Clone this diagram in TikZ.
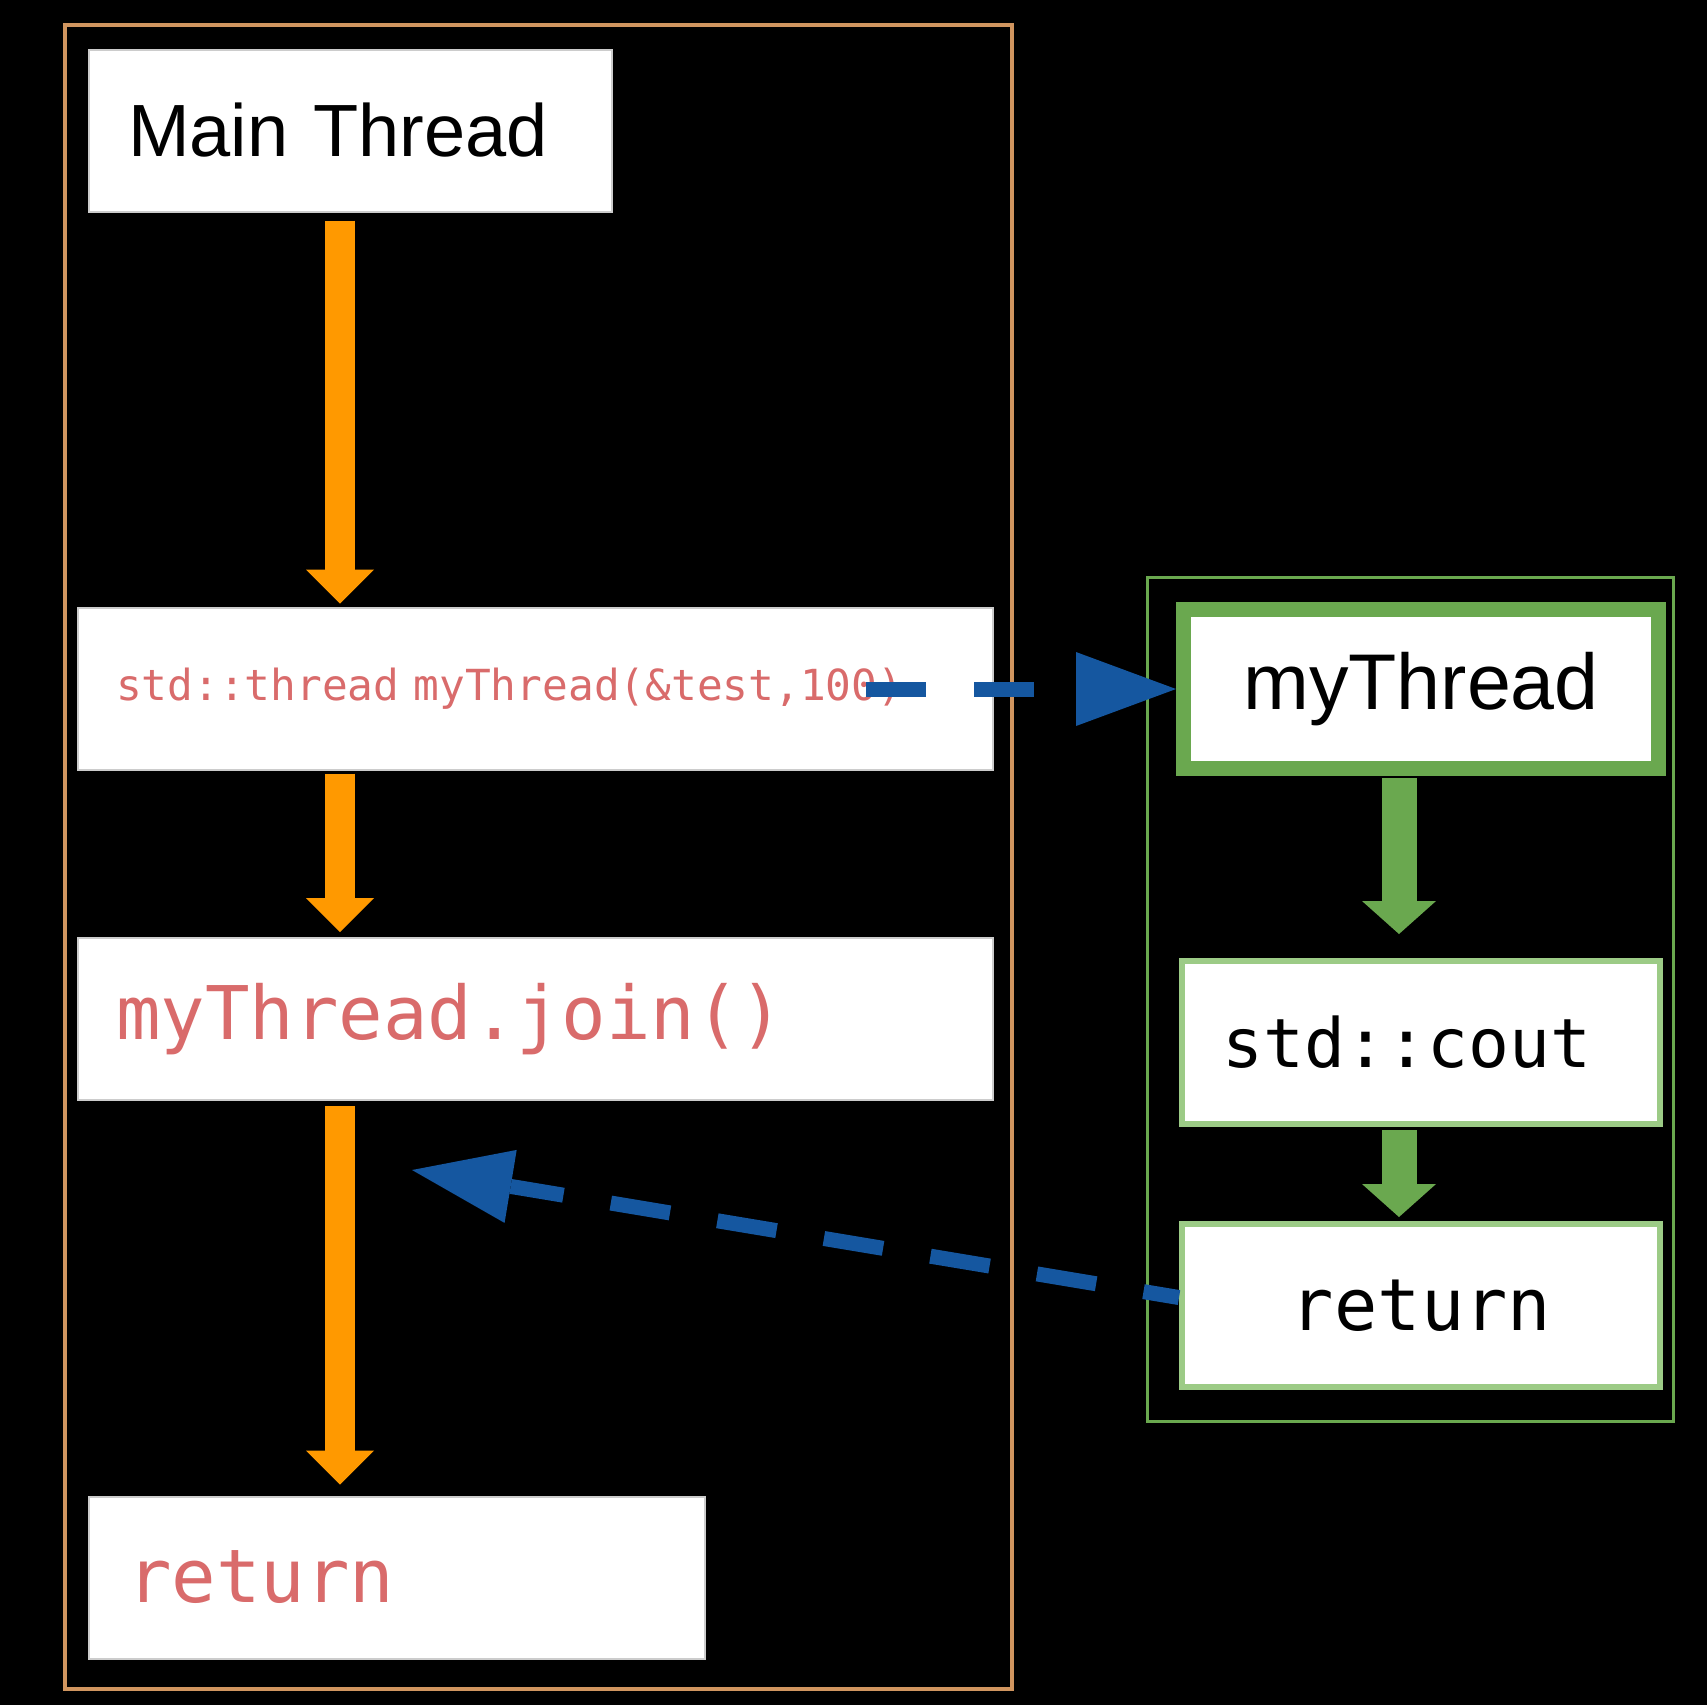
\documentclass[tikz,border=0pt]{standalone}
\usepackage{fontspec}
\usetikzlibrary{arrows.meta}
\newfontfamily\labelfont{Liberation Sans}
\newfontfamily\codefont{DejaVu Sans Mono}

\definecolor{flowOrange}{HTML}{FF9900}
\definecolor{threadgreen}{HTML}{6AA84F}
\definecolor{callgreen}{HTML}{9CCB86}
\definecolor{handblue}{HTML}{1557A0}
\definecolor{codered}{HTML}{D96B6B}
\definecolor{frametan}{HTML}{D0955F}

\tikzset{
  basebox/.style={rectangle, fill=white, draw=black!20, line width=1pt,
                  inner sep=0pt, minimum height=81pt, align=left},
  titlebox/.style={basebox, font=\labelfont\fontsize{37}{44}\selectfont,
                   inner xsep=19.5pt, text width=222.5pt},
  codebox/.style={basebox, text=codered, inner xsep=19pt, text width=#1},
  threadbox/.style={rectangle, fill=white, draw=threadgreen, line width=7.5pt,
                    inner sep=0pt, minimum width=237.5pt, minimum height=79.5pt,
                    font=\labelfont\fontsize{39.5}{46}\selectfont},
  callbox/.style={rectangle, fill=white, draw=callgreen, line width=3pt,
                  inner sep=0pt, minimum width=239pt, minimum height=81.5pt},
  mainflow/.style={draw=flowOrange, line width=15pt,
                   -{Triangle[width=34pt,length=17pt,line width=0pt]}},
  subflow/.style={draw=threadgreen, line width=17.5pt,
                  -{Triangle[width=37pt,length=16.5pt,line width=0pt]}},
  handoff/.style={draw=handblue, line width=7.5pt, dash pattern=on 30pt off 24pt,
                  -{Triangle[width=37pt,length=50pt,line width=0pt]}}
}

\begin{document}
\begin{tikzpicture}[x=0.5pt,y=-0.5pt]
  \fill[black] (0,0) rectangle (1707,1705);
  \useasboundingbox (0,0) rectangle (1707,1705);

  % thread frames
  \draw[frametan, line width=2pt]     (65,25) rectangle (1012,1689);
  \draw[threadgreen, line width=1.5pt] (1147,577) rectangle (1673,1421);

  % main thread
  \node[titlebox]               (main)  at (350.5,130.5) {Main Thread};
  \node[codebox=419.5pt, font=\codefont\fontsize{21.4}{25}\selectfont]
                                (spawn) at (535.5,688.5) {std::thread myThread(\&test,100)};
  \node[codebox=419.5pt, font=\codefont\fontsize{37}{44}\selectfont]
                                (join)  at (535.5,1019)  {myThread.join()};
  \node[codebox=270pt, font=\codefont\fontsize{37}{44}\selectfont]
                                (ret)   at (397,1577.5)  {return};

  % second thread
  \node[threadbox]              (child) at (1421,689)    {myThread};
  \node[callbox, font=\codefont\fontsize{34}{41}\selectfont]
                                (cout)  at (1421,1042.5) {std::cout\kern14pt};
  \node[callbox, font=\codefont\fontsize{36}{43}\selectfont]
                                (rret)  at (1421,1305.5) {return};

  \coordinate (trunk)  at (340,0);
  \coordinate (branch) at (1399,0);
  \coordinate (fork)   at (866,689);
  \coordinate (back)   at (412,1170);

  \path (main.south -| trunk)  edge [mainflow, shorten <=4pt, shorten >=1.5pt] (spawn.north -| trunk)
        (spawn.south -| trunk) edge [mainflow, shorten <=1.5pt, shorten >=2.5pt] (join.north -| trunk)
        (join.south -| trunk)  edge [mainflow, shorten <=2.5pt, shorten >=5.5pt] (ret.north -| trunk);

  \path (child.south -| branch) edge [subflow, shorten <=1pt, shorten >=12pt] (cout.north -| branch)
        (cout.south -| branch)  edge [subflow, shorten <=1.5pt, shorten >=2pt] (rret.north -| branch);

  \draw[handoff] (fork) -- (child.west);
  \draw[handoff, dash phase=12pt] ([yshift=4pt]rret.west) -- (back);
\end{tikzpicture}
\end{document}
